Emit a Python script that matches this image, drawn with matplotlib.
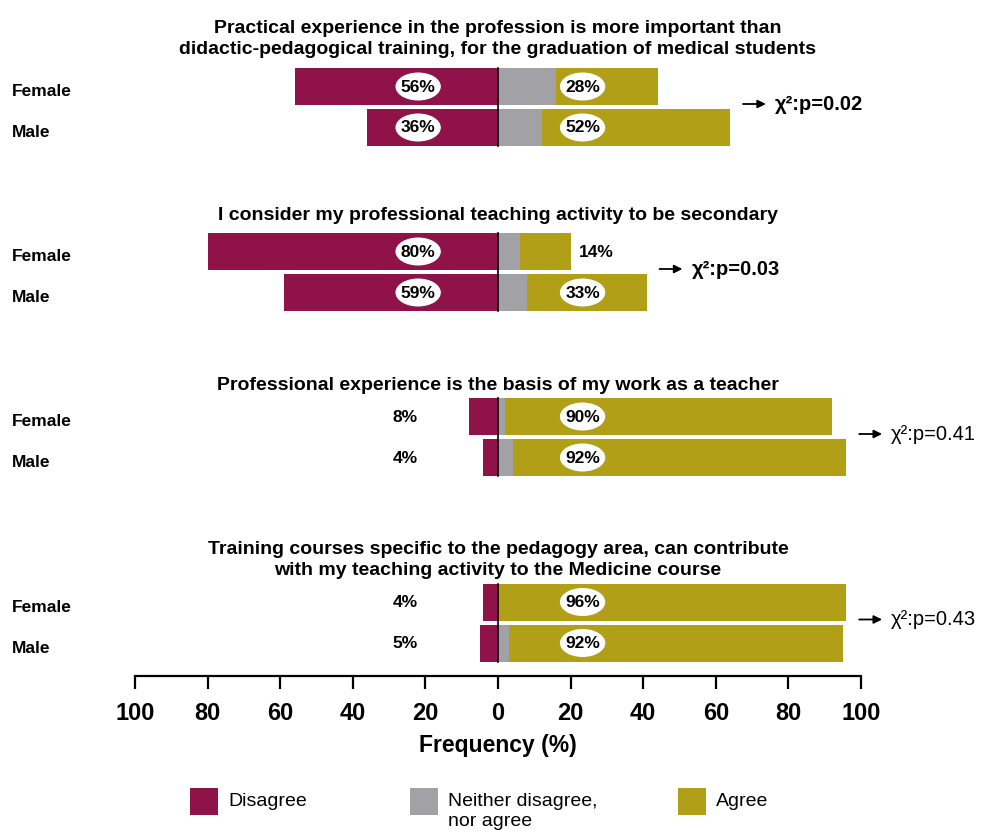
import matplotlib
matplotlib.use("Agg")
import matplotlib.pyplot as plt
from matplotlib.patches import Rectangle, Ellipse
from matplotlib.transforms import blended_transform_factory

plt.rcParams['font.family'] = ['Liberation Sans', 'DejaVu Sans']

# Datos
titles = ["Practical experience in the profession is more important than\n"
          "didactic-pedagogical training, for the graduation of medical students",
          "I consider my professional teaching activity to be secondary",
          "Professional experience is the basis of my work as a teacher",
          "Training courses specific to the pedagogy area, can contribute\n"
          "with my teaching activity to the Medicine course"]
groups = ["Female", "Male"]

disagree_f = [56, 80, 8, 4]
neutral_f = [16, 6, 2, 0]
agree_f = [28, 14, 90, 96]

disagree_m = [36, 59, 4, 5]
neutral_m = [12, 8, 4, 3]
agree_m = [52, 33, 92, 92]

p_values = ["0.02", "0.03", "0.41", "0.43"]
p_bold = [True, True, False, False]

c_dis = "#8f1249"
c_neu = "#a2a1a6"
c_agr = "#b09f17"

# Layout (y en pixeles desde arriba)
W, H = 985, 838
base_y = [86.5, 251.5, 416.5, 602]
title_y = [39, 215, 385, 560]
gap = 41
bar_h = 37
ell_w, ell_h = 12.5, 28   # ancho en unidades x, alto en pixeles


def label(x, y, txt, oval):
    if oval:
        ax.add_patch(Ellipse((x, y), ell_w, ell_h, fc="white", ec="none", zorder=3))
    ax.text(x, y + 0.5, txt, ha="center", va="center", fontsize=12.5,
            fontweight="bold", zorder=4)


fig = plt.figure(figsize=(W / 100, H / 100), dpi=100)
ax = fig.add_axes([135 / W, (H - 676) / H, 726 / W, 676 / H])
ax.set_xlim(-100, 100)
ax.set_ylim(676, 0)

lbl_tr = blended_transform_factory(fig.transFigure, ax.transData)

for i in range(4):
    rows = [(disagree_f[i], neutral_f[i], agree_f[i]),
            (disagree_m[i], neutral_m[i], agree_m[i])]
    for j, (d, n, a) in enumerate(rows):
        y = base_y[i] + j * gap
        ax.barh(y, -d, height=bar_h, color=c_dis, linewidth=0)
        ax.barh(y, n, height=bar_h, color=c_neu, linewidth=0)
        ax.barh(y, a, left=n, height=bar_h, color=c_agr, linewidth=0)

        # Etiquetas
        if d >= 20:
            label(-22, y, f"{d}%", True)
        else:
            label(-25.5, y, f"{d}%", False)
        if a >= 20:
            label(23.3, y, f"{a}%", True)
        else:
            label(n + a + 7, y, f"{a}%", False)

        ax.text(12 / W, y + 5, groups[j], transform=lbl_tr, ha="left",
                va="center", fontsize=12.5, fontweight="bold")

    # linea del cero
    ax.plot([0, 0], [base_y[i] - bar_h / 2, base_y[i] + gap + bar_h / 2],
            color="black", lw=1.2)

    ax.text(0, title_y[i], titles[i], ha="center", va="center", fontsize=14,
            fontweight="bold", linespacing=1.3)

    # chi cuadrado
    right = max(neutral_f[i] + agree_f[i], neutral_m[i] + agree_m[i])
    ya = base_y[i] + gap / 2 - 3
    x0 = right + 3.5
    x1 = x0 + 6.3
    ax.annotate("", xy=(x1, ya), xytext=(x0, ya), annotation_clip=False,
                arrowprops=dict(arrowstyle="-|>", color="black", lw=1.3,
                                mutation_scale=12, shrinkA=0, shrinkB=0))
    ax.text(x1 + 2.5, ya, "χ²:p=" + p_values[i], ha="left", va="center",
            fontsize=14.5, fontweight="bold" if p_bold[i] else "normal")

# Ejes
for s in ["top", "right", "left"]:
    ax.spines[s].set_visible(False)
ax.spines["bottom"].set_linewidth(1.6)
ax.set_yticks([])
ticks = list(range(-100, 101, 20))
ax.set_xticks(ticks)
ax.set_xticklabels([str(abs(t)) for t in ticks], fontsize=17, fontweight="bold")
ax.tick_params(axis="x", direction="out", length=9, width=1.6, pad=10)
ax.set_xlabel("Frequency (%)", fontsize=16.5, fontweight="bold", labelpad=6)

# Leyenda
leg_items = [("Disagree", c_dis, 190), ("Neither disagree,\nnor agree", c_neu, 410),
             ("Agree", c_agr, 678)]
for text, col, xp in leg_items:
    fig.add_artist(Rectangle((xp / W, (H - 815) / H), 28 / W, 27 / H,
                             transform=fig.transFigure, color=col, lw=0))
    fig.text((xp + 38) / W, (H - 793) / H, text, ha="left", va="top",
             fontsize=14, linespacing=1.2)

fig.savefig("out.png", dpi=100)
